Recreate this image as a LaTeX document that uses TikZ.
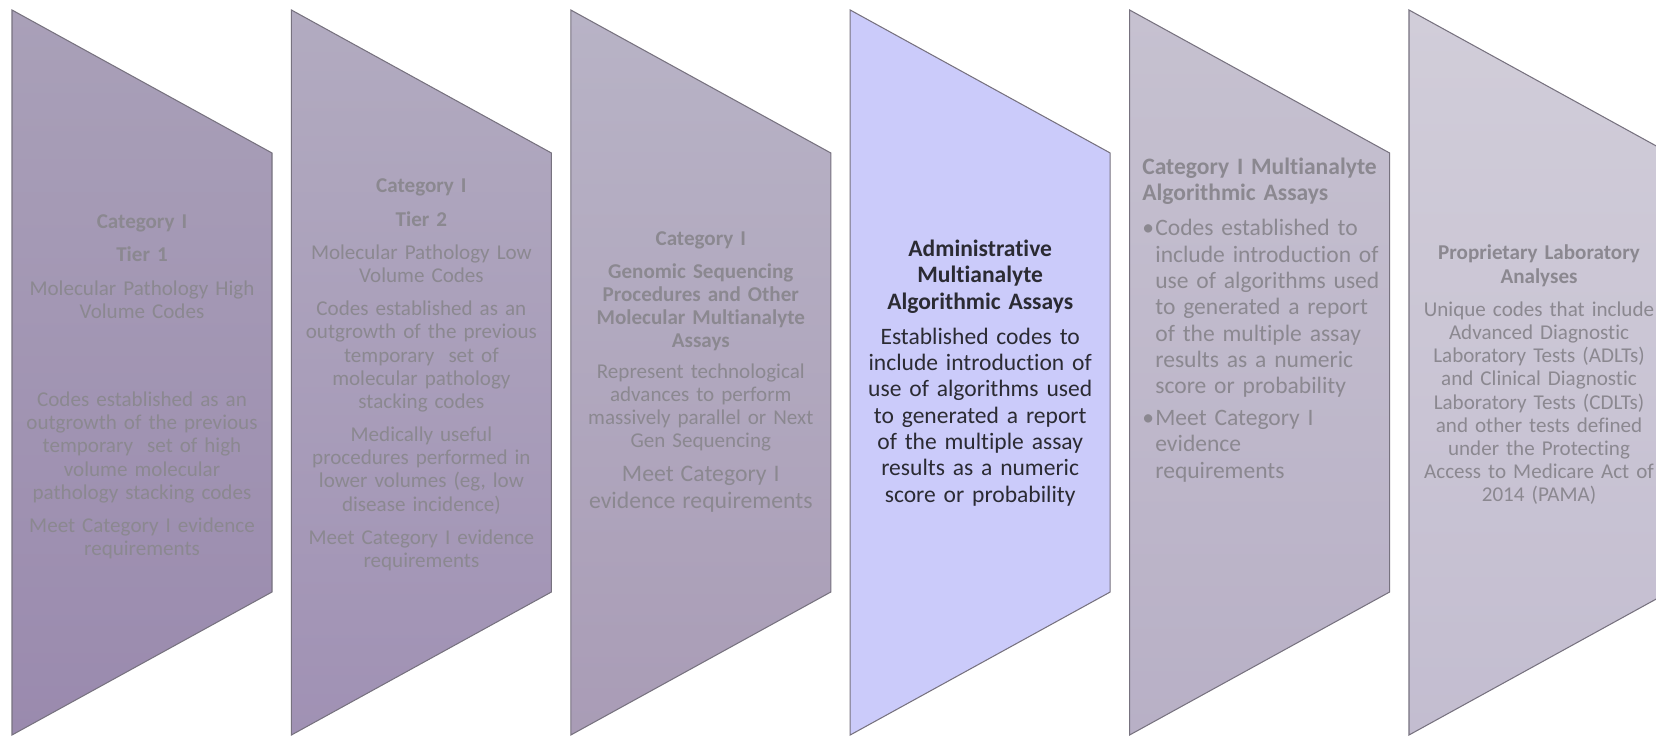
\documentclass[tikz,border=0pt]{standalone}
\usepackage{fontspec}
\setmainfont[Ligatures={NoCommon}]{Carlito}
\usepackage{xcolor}
\usetikzlibrary{positioning}

\definecolor{edgegrey}{HTML}{77727F}
\definecolor{fadetext}{HTML}{8B8890}
\definecolor{darktext}{HTML}{2B2B33}

\begin{document}
\begin{tikzpicture}[x=0.02cm, y=-0.02cm,
    panel/.style={draw=edgegrey, line width=0.6pt},
    body/.style={align=center, text width=5cm, inner sep=0pt, text=fadetext, font=\fontsize{12}{13.2}\selectfont},
    big/.style={body, font=\fontsize{13.4}{15}\selectfont}
  ]
  \useasboundingbox (0,0) rectangle (1656,736);

  \draw[panel, top color={rgb,255:red,169;green,160;blue,184}, bottom color={rgb,255:red,154;green,138;blue,174}] (12,10) -- ++(260,143) -- ++(0,439) -- ++(-260,143) -- cycle;
  \draw[panel, top color={rgb,255:red,178;green,171;blue,192}, bottom color={rgb,255:red,160;green,145;blue,180}] (291.4,10) -- ++(260,143) -- ++(0,439) -- ++(-260,143) -- cycle;
  \draw[panel, top color={rgb,255:red,184;green,179;blue,198}, bottom color={rgb,255:red,169;green,156;blue,182}] (570.8,10) -- ++(260,143) -- ++(0,439) -- ++(-260,143) -- cycle;
  \draw[panel, fill={rgb,255:red,203;green,203;blue,250}] (850.2,10) -- ++(260,143) -- ++(0,439) -- ++(-260,143) -- cycle;
  \draw[panel, top color={rgb,255:red,198;green,193;blue,208}, bottom color={rgb,255:red,184;green,176;blue,198}] (1129.6,10) -- ++(260,143) -- ++(0,439) -- ++(-260,143) -- cycle;
  \draw[panel, top color={rgb,255:red,209;green,205;blue,217}, bottom color={rgb,255:red,195;green,189;blue,208}] (1409,10) -- ++(260,143) -- ++(0,439) -- ++(-260,143) -- cycle;

  \node (tierone) [body] at (142,387) {{\bfseries Category I\\[5.7pt] Tier 1}\\[5.7pt] Molecular Pathology High\\Volume Codes\\[37pt] Codes established as an\\outgrowth of the previous\\temporary\ \ set of high\\volume molecular\\pathology stacking codes\\[5.7pt] Meet Category I evidence\\requirements};
  \node (tiertwo) [body] at (421.4,375) {{\bfseries Category I\\[5.7pt] Tier 2}\\[5.7pt] Molecular Pathology Low\\Volume Codes\\[5.7pt] Codes established as an\\outgrowth of the previous\\temporary\ \ set of\\molecular pathology\\stacking codes\\[5.7pt] Medically useful\\procedures performed in\\lower volumes (eg, low\\disease incidence)\\[5.7pt] Meet Category I evidence\\requirements};
  \node (genseq) [body] at (700.8,372) {{\bfseries Category I\\[5.4pt] Genomic Sequencing\\Procedures and Other\\Molecular Multianalyte\\Assays}\\[4pt] Represent technological\\advances to perform\\massively parallel or Next\\Gen Sequencing\par\vspace{4pt}\fontsize{13.5}{15.3}\selectfont Meet Category I\\evidence requirements\par};
  \node (adminmaaa) [big, text=darktext] at (980.2,373) {{\bfseries Administrative\\Multianalyte\\Algorithmic Assays}\\[4.8pt] Established codes to\\include introduction of\\use of algorithms used\\to generated a report\\of the multiple assay\\results as a numeric\\score or probability};
  \node (catmaaa) [big, align=left, anchor=west] at (1142,320) {{\bfseries Category I Multianalyte\\Algorithmic Assays}\\[4.8pt] \makebox[7.4pt][l]{\textbullet}Codes established to\\\hspace*{7.4pt}include introduction of\\\hspace*{7.4pt}use of algorithms used\\\hspace*{7.4pt}to generated a report\\\hspace*{7.4pt}of the multiple assay\\\hspace*{7.4pt}results as a numeric\\\hspace*{7.4pt}score or probability\\[3pt] \makebox[7.4pt][l]{\textbullet}Meet Category I\\\hspace*{7.4pt}evidence\\\hspace*{7.4pt}requirements};
  \node (pla) [body] at (1539,375) {{\bfseries Proprietary Laboratory\\Analyses}\\[5.7pt] Unique codes that include\\Advanced Diagnostic\\Laboratory Tests (ADLTs)\\and Clinical Diagnostic\\Laboratory Tests (CDLTs)\\and other tests defined\\under the Protecting\\Access to Medicare Act of\\2014 (PAMA)};
\end{tikzpicture}
\end{document}
